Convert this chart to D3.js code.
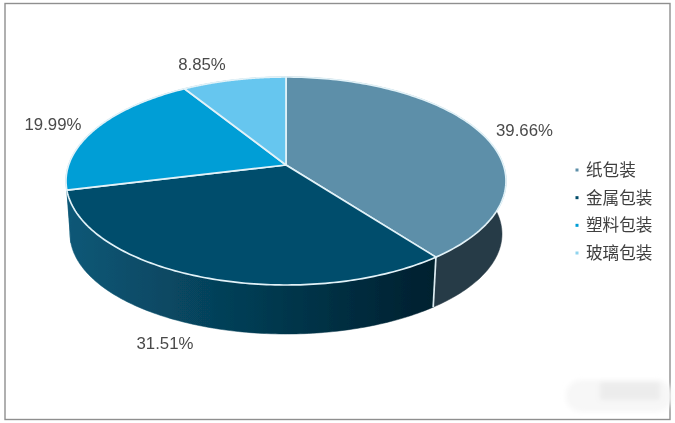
<!DOCTYPE html>
<html><head><meta charset="utf-8">
<script src="https://cdnjs.cloudflare.com/ajax/libs/d3/7.8.5/d3.min.js"></script>
<style>html,body{margin:0;padding:0;background:#fff}svg{display:block}</style>
</head><body><svg id="c" width="675" height="423"></svg>
<script>
const categories=["纸包装","金属包装","塑料包装","玻璃包装"];
const values=[39.66,31.51,19.99,8.85];
const topColors=["#5d8fa9","#034e6c","#069ed6","#66c6ef"];
const markerColors=["#5d8fa9","#034b69","#029dd6","#8fd4ee"];

const svg=d3.select("#c");
const defs=svg.append("defs");
defs.append("filter").attr("id","soft").attr("x","-20%").attr("y","-40%").attr("width","140%").attr("height","180%")
  .append("feGaussianBlur").attr("stdDeviation",2.5);
defs.append("filter").attr("id","aa").append("feGaussianBlur").attr("stdDeviation",0.45);
defs.append("filter").attr("id","txt").append("feGaussianBlur").attr("stdDeviation",0.3);

const sideGrads=[
  {id:"s0",stops:["#2a404c","#283b46"]},
  {id:"s1",stops:["#0a5877","#00202f"]},
  {id:"s2",stops:["#0a5877","#0a5877"]},
  {id:"s3",stops:["#0a5877","#0a5877"]}
];
sideGrads.forEach(g=>{
  const lg=defs.append("linearGradient").attr("id",g.id).attr("gradientUnits","userSpaceOnUse")
    .attr("x1",66).attr("x2",432).attr("y1",0).attr("y2",0);
  lg.append("stop").attr("offset",0).attr("stop-color",g.stops[0]);
  lg.append("stop").attr("offset",1).attr("stop-color",g.stops[1]);
});

// frame
svg.append("rect").attr("x",5).attr("y",3.5).attr("width",665).attr("height",416)
  .attr("fill","#fff").attr("stroke","#8f8f8f").attr("stroke-width",1.4);

// watermark smudge
const wm=svg.append("g").attr("filter","url(#soft)");
wm.append("rect").attr("x",566).attr("y",380).attr("width",106).attr("height",32).attr("rx",15).attr("fill","#f7f7f7");
wm.append("rect").attr("x",600).attr("y",382).attr("width",60).attr("height",18).attr("fill","#ececec");

// perspective disc: unit circle -> ellipse, centre of the pie shifted toward the viewer's far side
const k=-0.154;
const project=a=>{
  const u=Math.sin(a), v=-Math.cos(a);
  const den=1+k*v;
  return [u*Math.sqrt(1-k*k)/den,(v+k)/den];
};
const xTop=d3.scaleLinear().domain([-1,1]).range([66,506]);
const yTop=d3.scaleLinear().domain([-1,1]).range([77,285]);
const xBot=d3.scaleLinear().domain([-1,1]).range([70,502]);
const yBot=d3.scaleLinear().domain([-1,1]).range([134,334]);

const pie=d3.pie().sort(null).value(d=>d);
const arcs=pie(values);
const line=d3.line().curve(d3.curveLinear);
const steps=a=>d3.range(0,121).map(i=>a.startAngle+(a.endAngle-a.startAngle)*i/120);
const ptTop=t=>{const p=project(t);return [xTop(p[0]),yTop(p[1])]};
const ptBot=t=>{const p=project(t);return [xBot(p[0]),yBot(p[1])]};

const root=svg.append("g").attr("filter","url(#aa)");
// side walls
root.selectAll("path.side").data(arcs).join("path").attr("class","side")
  .attr("d",a=>{const ts=steps(a);return line([...ts.map(ptTop),...ts.slice().reverse().map(ptBot)])+"Z"})
  .attr("fill",(a,i)=>`url(#s${i})`).attr("stroke",(a,i)=>`url(#s${i})`).attr("stroke-width",0.5);
// visible divider on the wall between paper and metal
root.append("path").attr("d",line([ptTop(arcs[0].endAngle),ptBot(arcs[0].endAngle)]))
  .attr("stroke","#dcecf2").attr("stroke-width",1.7).attr("fill","none");
// top wedges
const apex=[xTop(0),yTop(k)];
root.selectAll("path.top").data(arcs).join("path").attr("class","top")
  .attr("d",a=>line([apex,...steps(a).map(ptTop)])+"Z")
  .attr("fill",(a,i)=>topColors[i])
  .attr("stroke","#e2f2f8").attr("stroke-width",1.7).attr("stroke-linejoin","round");

// percentage labels
const fmt=d3.format(".2f");
const labelAt=[[524.5,130.5],[165,343.5],[53,124.5],[202,64]];
const tg=svg.append("g").attr("filter","url(#txt)");
tg.selectAll("text.pct").data(values).join("text").attr("class","pct")
  .attr("x",(d,i)=>labelAt[i][0]).attr("y",(d,i)=>labelAt[i][1])
  .attr("text-anchor","middle").attr("dominant-baseline","central")
  .attr("font-family","Liberation Sans, Arial, sans-serif").attr("font-size",16.8).attr("fill","#4a4a4a")
  .text(d=>fmt(d)+"%");

// legend
const legendY=d3.scalePoint().domain(categories).range([169,252]);
const lg=tg.selectAll("g.lg").data(categories).join("g").attr("class","lg")
  .attr("transform",d=>`translate(577,${legendY(d)})`);
lg.append("rect").attr("x",-1.5).attr("y",-0.5).attr("width",3).attr("height",3)
  .attr("fill",(d,i)=>markerColors[i]);
lg.append("text").attr("x",9).attr("dominant-baseline","central")
  .attr("font-family","Noto Sans CJK SC, sans-serif").attr("font-size",16.6).attr("fill","#404040")
  .text(d=>d);
</script></body></html>
